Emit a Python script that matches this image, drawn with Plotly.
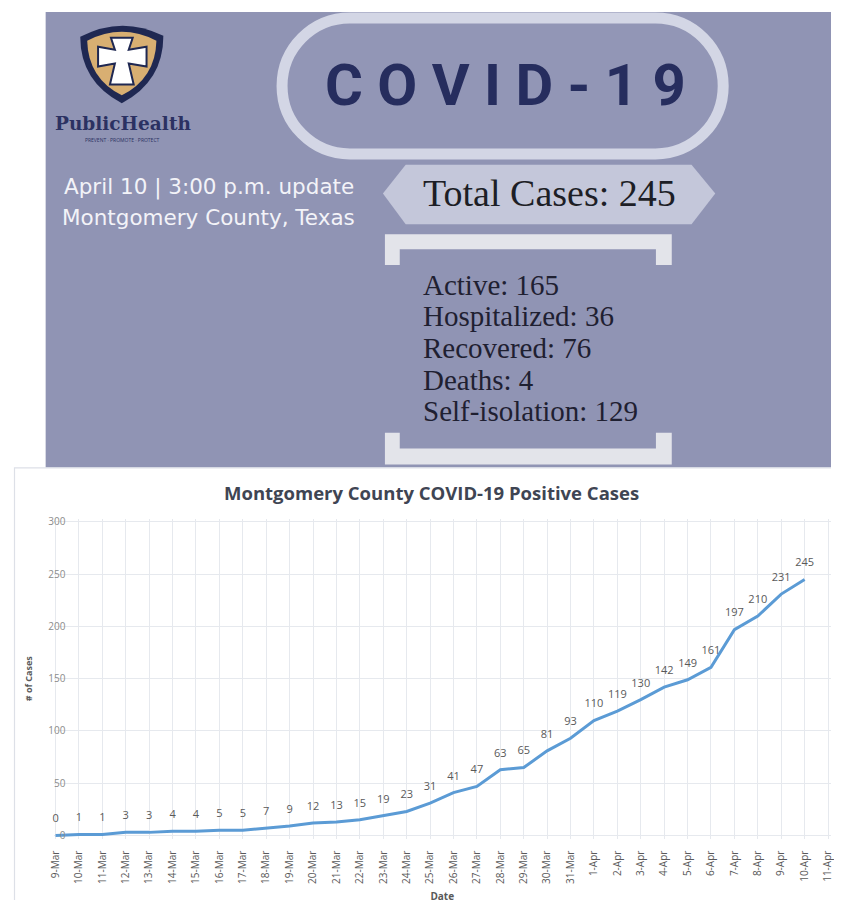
import plotly.graph_objects as go

# ---------------- data ----------------
dates = ["9-Mar", "10-Mar", "11-Mar", "12-Mar", "13-Mar", "14-Mar", "15-Mar", "16-Mar",
         "17-Mar", "18-Mar", "19-Mar", "20-Mar", "21-Mar", "22-Mar", "23-Mar", "24-Mar",
         "25-Mar", "26-Mar", "27-Mar", "28-Mar", "29-Mar", "30-Mar", "31-Mar",
         "1-Apr", "2-Apr", "3-Apr", "4-Apr", "5-Apr", "6-Apr", "7-Apr", "8-Apr",
         "9-Apr", "10-Apr", "11-Apr"]
cases = [0, 1, 1, 3, 3, 4, 4, 5, 5, 7, 9, 12, 13, 15, 19, 23, 31, 41, 47, 63, 65, 81, 93,
         110, 119, 130, 142, 149, 161, 197, 210, 231, 245]
y_ticks = [0, 50, 100, 150, 200, 250, 300]

summary_labels = ["Active", "Hospitalized", "Recovered", "Deaths", "Self-isolation"]
summary_values = [165, 36, 76, 4, 129]
total_cases = 245
update_line = "April 10 | 3:00 p.m. update"
place_line = "Montgomery County, Texas"

# ---------------- geometry helpers (page pixel -> paper) ----------------
# the page body has an 8px margin: the figure sits at page (8, 8) and is sized
# so that the page does not overflow the 842x911 window
OFF = 8
W, H = 842 - 2 * OFF, 911 - 2 * OFF


def px(x):
    return (x - OFF) / W


def py(y):
    return 1 - (y - OFF) / H


def poly(points):
    return "M " + " L ".join(f"{px(x):.5f},{py(y):.5f}" for x, y in points) + " Z"


def cmd_path(cmds):
    out = []
    for c in cmds:
        out.append(c[0] + " " + " ".join(f"{px(x):.5f},{py(y):.5f}" for x, y in c[1:]))
    return " ".join(out) + " Z"


BG = "#9094B4"
NAVY = "#262D5E"
RIGHT = OFF + W

shapes = []
# banner background
shapes.append(dict(type="rect", xref="paper", yref="paper", x0=px(40), x1=1,
                   y0=py(467), y1=1, fillcolor=BG, line=dict(width=0), layer="below"))
# chart frame
shapes.append(dict(type="path", xref="paper", yref="paper",
                   path=f"M {px(8.5)},0 L {px(8.5)},{py(467.5)} L 1,{py(467.5)}",
                   line=dict(color="#DDE0E7", width=1.2)))

# pill around COVID-19
L, R, T, B = 279, 725, 14, 151
r = (B - T) / 2
k = 0.5523 * r
cy = (T + B) / 2
pill = cmd_path([
    ("M", (L + r, T)),
    ("L", (R - r, T)),
    ("C", (R - r + k, T), (R, cy - k), (R, cy)),
    ("C", (R, cy + k), (R - r + k, B), (R - r, B)),
    ("L", (L + r, B)),
    ("C", (L + r - k, B), (L, cy + k), (L, cy)),
    ("C", (L, cy - k), (L + r - k, T), (L + r, T)),
])
shapes.append(dict(type="path", xref="paper", yref="paper", path=pill,
                   fillcolor="#9296B6", line=dict(color="#D3D6E5", width=11)))

# hexagon banner for total cases
shapes.append(dict(type="path", xref="paper", yref="paper",
                   path=poly([(381, 191), (404, 162), (693, 162), (717, 191), (693, 222), (404, 222)]),
                   fillcolor="#C4C7DA", line=dict(width=0)))

# brackets
BR = "#E3E4EA"
shapes.append(dict(type="path", xref="paper", yref="paper",
                   path=poly([(383, 232), (673, 232), (673, 263), (657, 263), (657, 247),
                              (398, 247), (398, 263), (383, 263)]),
                   fillcolor=BR, line=dict(width=0)))
shapes.append(dict(type="path", xref="paper", yref="paper",
                   path=poly([(383, 432), (398, 432), (398, 448), (657, 448), (657, 432),
                              (673, 432), (673, 464), (383, 464)]),
                   fillcolor=BR, line=dict(width=0)))

# logo shield
shield_outer = cmd_path([
    ("M", (75, 33)),
    ("Q", (117, 11), (159, 32)),
    ("Q", (159, 78), (117, 100)),
    ("Q", (75, 78), (75, 33)),
])
shield_inner = cmd_path([
    ("M", (82, 37)),
    ("Q", (117, 19), (152, 37)),
    ("Q", (151, 75), (117, 92)),
    ("Q", (83, 75), (82, 37)),
])
shapes.append(dict(type="path", xref="paper", yref="paper", path=shield_outer,
                   fillcolor="#1F2852", line=dict(width=0)))
shapes.append(dict(type="path", xref="paper", yref="paper", path=shield_inner,
                   fillcolor="#D8AF72", line=dict(width=0)))
cross = poly([(106, 34), (128, 34), (124, 46), (142, 43), (142, 63), (124, 60), (129, 81),
              (105, 81), (110, 60), (93, 63), (93, 43), (110, 46)])
shapes.append(dict(type="path", xref="paper", yref="paper", path=cross,
                   fillcolor="white", line=dict(color="#1F2852", width=2)))

annotations = []


def text(x, y, s, size, color, family, xanchor="center"):
    annotations.append(dict(x=px(x), y=py(y), xref="paper", yref="paper", text=s,
                            showarrow=False, xanchor=xanchor, yanchor="middle",
                            font=dict(size=size, color=color, family=family)))


text(118, 120.5, "<b>PublicHealth</b>", 18.5, "#2B3162", "DejaVu Serif")
text(118, 137.5, "PREVENT · PROMOTE · PROTECT", 5, "#2B3162", "Open Sans")
text(205, 184, update_line, 21.5, "#F3F3F8", "DejaVu Sans")
text(205, 215, place_line, 21.5, "#F3F3F8", "DejaVu Sans")
text(505, 82, "<b>" + " ".join("COVID-19") + "</b>", 58, NAVY, "Roboto")
text(549, 190, f"Total Cases: {total_cases}", 38, "#1D1E26", "Liberation Serif")
for i, (lab, val) in enumerate(zip(summary_labels, summary_values)):
    text(419, 283 + i * 31.8, f"{lab}: {val}", 29, "#1F2031", "Liberation Serif", xanchor="left")

# chart title
text(430, 492, "<b>Montgomery County COVID-19 Positive Cases</b>", 18.5, "#3F4553", "Open Sans")

# ---------------- chart ----------------
fig = go.Figure()
fig.add_trace(go.Scatter(
    x=dates[:len(cases)], y=cases,
    mode="lines+markers+text",
    text=[str(v) for v in cases],
    textposition="top center",
    textfont=dict(size=11, color="#595959", family="Open Sans"),
    marker=dict(size=15, color="rgba(0,0,0,0)"),
    line=dict(color="#5B9BD5", width=3),
    cliponaxis=False,
    hoverinfo="x+y",
))

y0_px, y300_px = 838, 522
ppu = (y0_px - y300_px) / 300.0
pad = 3
dom_bottom = py(y0_px + pad * ppu)
dom_top = py(y300_px - pad * ppu)

x_first, x_last = 50, 831          # page x of first and last category
cat_w = (x_last - x_first) / (len(dates) - 1)
x_left, x_right = 48, RIGHT
xr = [(x_left - x_first) / cat_w, (len(dates) - 1) + (x_right - x_last) / cat_w]

fig.update_layout(
    width=W, height=H,
    margin=dict(l=0, r=0, t=0, b=0),
    paper_bgcolor="white", plot_bgcolor="white",
    showlegend=False,
    shapes=shapes,
    annotations=annotations,
    xaxis=dict(
        type="category", categoryorder="array", categoryarray=dates,
        range=xr, domain=[px(x_left), 1],
        tickangle=-90, tickfont=dict(size=10, color="#595959", family="Open Sans"),
        showgrid=True, gridcolor="#E6E9EE", gridwidth=1,
        showline=False, ticks="", zeroline=False,
        ticklabelstandoff=9,
        title=dict(text="<b>Date</b>", font=dict(size=10, color="#595959", family="Open Sans"),
                   standoff=12),
    ),
    yaxis=dict(
        range=[-pad, 300 + pad], domain=[dom_bottom, dom_top],
        anchor="free", position=px(60), side="left",
        tickvals=y_ticks,
        tickfont=dict(size=10, color="#8C8C8C", family="Open Sans"),
        showgrid=True, gridcolor="#E6E9EE", gridwidth=1,
        zeroline=False, showline=False, ticks="",
        title=dict(text="<b># of Cases</b>", font=dict(size=9, color="#595959", family="Open Sans"),
                   standoff=13),
    ),
)

fig.write_html("out.html")
